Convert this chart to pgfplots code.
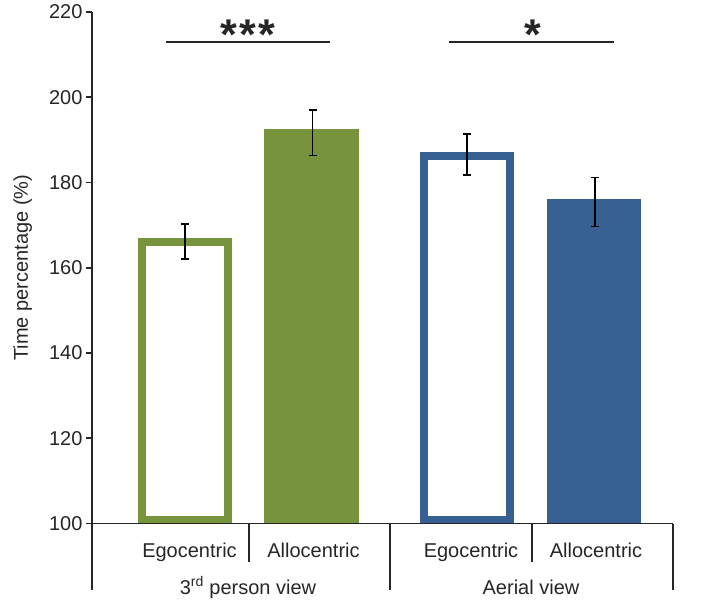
\documentclass[border=0pt]{standalone}
\usepackage{fontspec}
\setmainfont{Liberation Sans}
\usepackage{pgfplots}
\pgfplotsset{compat=1.18}
\definecolor{grn}{HTML}{77933C}
\definecolor{blu}{HTML}{376092}
\definecolor{axc}{HTML}{262626}
\begin{document}
\begin{tikzpicture}
\begin{axis}[
  name=ax, at={(0,0)}, anchor=south west,
  scale only axis, width=581pt, height=511.5pt,
  xmin=92, xmax=673, ymin=100, ymax=220,
  axis x line*=bottom, axis y line*=left,
  axis line style={-, line width=1.8pt, axc},
  axis on top,
  ytick={100,120,...,220},
  xtick={189.5,313.5,471,596},
  xticklabels={Egocentric,Allocentric,Egocentric,Allocentric},
  tick align=outside,
  major tick length=6pt,
  ytick style={line width=1.8pt, axc},
  xtick style={draw=none},
  /pgf/number format/assume math mode=true,
  tick label style={font=\fontsize{20}{24}\selectfont, axc},
  xticklabel style={anchor=base, yshift=-27.5pt},
  ylabel={Time percentage (\%)},
  ylabel style={font=\fontsize{20}{24}\selectfont, axc, at={(axis description cs:-0.1102,0.5)}, anchor=base},
  clip mode=individual,
]
% open bars (Egocentric)
\addplot[draw=grn, line width=8pt, fill=white] coordinates {(142,100.9) (142,166.0) (228,166.0) (228,100.9)} -- cycle;
\addplot[draw=blu, line width=8pt, fill=white] coordinates {(424,100.9) (424,186.3) (510,186.3) (510,100.9)} -- cycle;
% filled bars (Allocentric)
\addplot[ybar, bar width=95, fill=grn, draw=none] coordinates {(311.5,192.5)};
\addplot[ybar, bar width=94, fill=blu, draw=none] coordinates {(594,176.1)};
% error bars
\addplot[draw=none, mark=none, error bars/.cd, y dir=both, y explicit,
  error bar style={draw=black, line width=1.5pt},
  error mark options={draw=black, rotate=90, mark size=4pt, line width=1.5pt}]
  coordinates {(185,166.2) +- (0,4.1) (312.5,191.7) +- (0,5.35) (467,186.6) +- (0,4.8) (595,175.4) +- (0,5.75)};
% group separators
\draw[line width=1.8pt, axc] (axis cs:92,100) -- ([yshift=-66.5pt]axis cs:92,100);
\draw[line width=1.8pt, axc] (axis cs:390,100) -- ([yshift=-66.5pt]axis cs:390,100);
\draw[line width=1.8pt, axc] (axis cs:673,100) -- ([yshift=-66.5pt]axis cs:673,100);
\draw[line width=1.8pt, axc] (axis cs:249,100) -- ([yshift=-38.5pt]axis cs:249,100);
\draw[line width=1.8pt, axc] (axis cs:532,100) -- ([yshift=-38.5pt]axis cs:532,100);
\node[anchor=base, font=\fontsize{20}{24}\selectfont, text=axc] at ([yshift=-70.5pt]axis cs:248,100) {3\textsuperscript{rd} person view};
\node[anchor=base, font=\fontsize{20}{24}\selectfont, text=axc] at ([yshift=-70.5pt]axis cs:531,100) {Aerial view};
% significance
\draw[line width=2.5pt, axc] (axis cs:166,213) -- (axis cs:330,213);
\draw[line width=2.5pt, axc] (axis cs:449,213) -- (axis cs:614,213);
\node[anchor=base, font=\fontsize{43}{52}\selectfont\bfseries, text=axc] at ([yshift=-7.5pt]axis cs:248,213) {*\kern2.5pt*\kern2.5pt*};
\node[anchor=base, font=\fontsize{43}{52}\selectfont\bfseries, text=axc] at ([yshift=-7.5pt]axis cs:532.5,213) {*};
\end{axis}
\path (-92pt,-79.5pt) rectangle (616pt,523.5pt);
\end{tikzpicture}
\end{document}
